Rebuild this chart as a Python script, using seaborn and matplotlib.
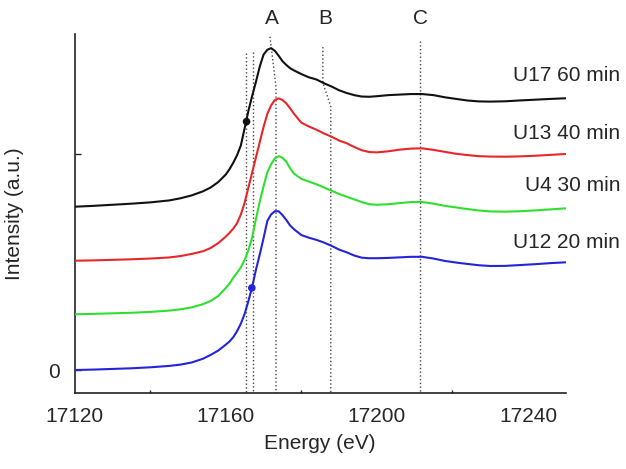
import numpy as np
import pandas as pd
import matplotlib
matplotlib.use("Agg")
import matplotlib.pyplot as plt
import seaborn as sns

# energia comum (eV) para as quatro curvas
energia = [17120, 17125, 17130, 17135, 17140, 17145, 17148, 17151, 17154, 17156,
           17158, 17160, 17161, 17162, 17163, 17164, 17165, 17166, 17167, 17168,
           17169, 17170, 17171, 17172, 17173, 17174, 17175, 17176, 17177, 17178,
           17180, 17182, 17184, 17186, 17188, 17190, 17192, 17194, 17196, 17198,
           17200, 17203, 17206, 17209, 17212, 17215, 17218, 17221, 17224, 17227,
           17230, 17234, 17238, 17242, 17246, 17250]

# intensidades (ja com deslocamento vertical)
u17_60 = [1.512, 1.52, 1.53, 1.54, 1.552, 1.57, 1.59, 1.617, 1.655, 1.69,
          1.74, 1.81, 1.86, 1.92, 1.99, 2.08, 2.24, 2.40, 2.54, 2.67,
          2.81, 2.92, 2.965, 2.98, 2.955, 2.91, 2.86, 2.825, 2.795, 2.775,
          2.74, 2.71, 2.69, 2.655, 2.625, 2.59, 2.565, 2.545, 2.532, 2.53,
          2.535, 2.545, 2.55, 2.555, 2.555, 2.545, 2.525, 2.51, 2.495, 2.487,
          2.485, 2.488, 2.496, 2.503, 2.51, 2.516]
u13_40 = [1.012, 1.015, 1.02, 1.025, 1.032, 1.042, 1.055, 1.075, 1.10, 1.13,
          1.175, 1.235, 1.27, 1.31, 1.36, 1.44, 1.55, 1.69, 1.83, 1.97,
          2.11, 2.25, 2.37, 2.45, 2.50, 2.515, 2.50, 2.47, 2.425, 2.375,
          2.29, 2.255, 2.225, 2.19, 2.16, 2.125, 2.10, 2.065, 2.035, 2.018,
          2.015, 2.025, 2.04, 2.05, 2.052, 2.038, 2.02, 2.002, 1.99, 1.98,
          1.976, 1.975, 1.978, 1.984, 1.992, 2.00]
u4_30 = [0.516, 0.52, 0.525, 0.53, 0.538, 0.55, 0.562, 0.58, 0.61, 0.64,
         0.685, 0.76, 0.80, 0.855, 0.90, 0.95, 1.02, 1.11, 1.23, 1.40,
         1.56, 1.70, 1.83, 1.905, 1.96, 1.98, 1.965, 1.93, 1.87, 1.82,
         1.77, 1.745, 1.72, 1.69, 1.66, 1.63, 1.605, 1.58, 1.555, 1.535,
         1.53, 1.535, 1.545, 1.555, 1.556, 1.54, 1.52, 1.505, 1.49, 1.477,
         1.468, 1.466, 1.47, 1.478, 1.487, 1.497]
u12_20 = [0.0, 0.004, 0.01, 0.016, 0.025, 0.038, 0.05, 0.07, 0.105, 0.14,
          0.18, 0.235, 0.265, 0.305, 0.36, 0.43, 0.52, 0.64, 0.77, 0.93,
          1.07, 1.22, 1.38, 1.44, 1.47, 1.47, 1.435, 1.39, 1.34, 1.305,
          1.25, 1.225, 1.205, 1.18, 1.15, 1.115, 1.09, 1.06, 1.04, 1.035,
          1.035, 1.038, 1.043, 1.048, 1.048, 1.032, 1.01, 0.995, 0.982, 0.97,
          0.963, 0.964, 0.972, 0.98, 0.99, 0.997]

amostras = ["U17 60 min", "U13 40 min", "U4 30 min", "U12 20 min"]
cores = ["#111111", "#e8262a", "#2ee02e", "#2424d8"]
pos_rotulo = [2.73, 2.19, 1.71, 1.18]

# pontos marcados (ponto de inflexao)
marc_e = [17165.5, 17166.9]
marc_i = [2.30, 0.76]
marc_cor = ["#111111", "#2424d8"]

# linhas de referencia pontilhadas
linhas_ref = [
    ([17165.3, 17165.3], [2.935, -0.213]),
    ([17167.3, 17167.3], [2.94, -0.213]),
    ([17171.7, 17173.3, 17173.3], [3.086, 2.62, -0.213]),
    ([17185.7, 17185.7, 17187.8, 17187.8], [2.99, 2.66, 2.44, -0.213]),
    ([17211.5, 17211.5], [3.05, -0.213]),
]
picos = ["A", "B", "C"]
picos_e = [17172.3, 17186.3, 17211.5]

sns.set_style("white")
plt.rcParams['font.family'] = ['Liberation Sans', 'DejaVu Sans']

fig = plt.figure(figsize=(6.26, 4.69), dpi=100)
ax = fig.add_axes([0.1193, 0.162, 0.7844, 0.7655])

df = pd.DataFrame({'energia': energia * 4,
                   'intensidade': u17_60 + u13_40 + u4_30 + u12_20,
                   'amostra': np.repeat(amostras, len(energia))})
sns.lineplot(data=df, x='energia', y='intensidade', hue='amostra',
             palette=dict(zip(amostras, cores)), linewidth=1.5,
             legend=False, ax=ax, zorder=3)

for xs, ys in linhas_ref:
    ax.plot(xs, ys, linestyle=(0, (1, 1.7)), color='#444444', linewidth=1.0, zorder=2)

ax.scatter(marc_e, marc_i, c=marc_cor, s=20, zorder=4)

for p, e in zip(picos, picos_e):
    ax.text(e, 3.25, p, ha='center', va='center', fontsize=15, clip_on=False)

for nome, y in zip(amostras, pos_rotulo):
    ax.text(17264.4, y, nome, ha='right', va='center', fontsize=15, clip_on=False)

ax.set_xlim(17120, 17250)
ax.set_ylim(-0.213, 3.111)
ax.set_xticks([17120, 17160, 17200, 17240])
ax.set_xticks([17140, 17180, 17220], minor=True)
ax.set_yticks([0, 2])
ax.set_yticklabels(['0', ''])
ax.tick_params(axis='x', which='major', direction='in', length=5, width=1, pad=10, labelsize=15)
ax.tick_params(axis='x', which='minor', direction='in', length=2.5, width=1, bottom=True)
ax.tick_params(axis='y', direction='in', length=4, width=1, pad=11, labelsize=15, left=True)
ax.set_xlabel('Energy (eV)', fontsize=15, labelpad=6)
ax.set_ylabel('Intensity (a.u.)', fontsize=15, labelpad=17)
sns.despine(ax=ax)
for s in ['left', 'bottom']:
    ax.spines[s].set_color('#222222')
    ax.spines[s].set_linewidth(1.2)

fig.savefig('out.png', dpi=100)
